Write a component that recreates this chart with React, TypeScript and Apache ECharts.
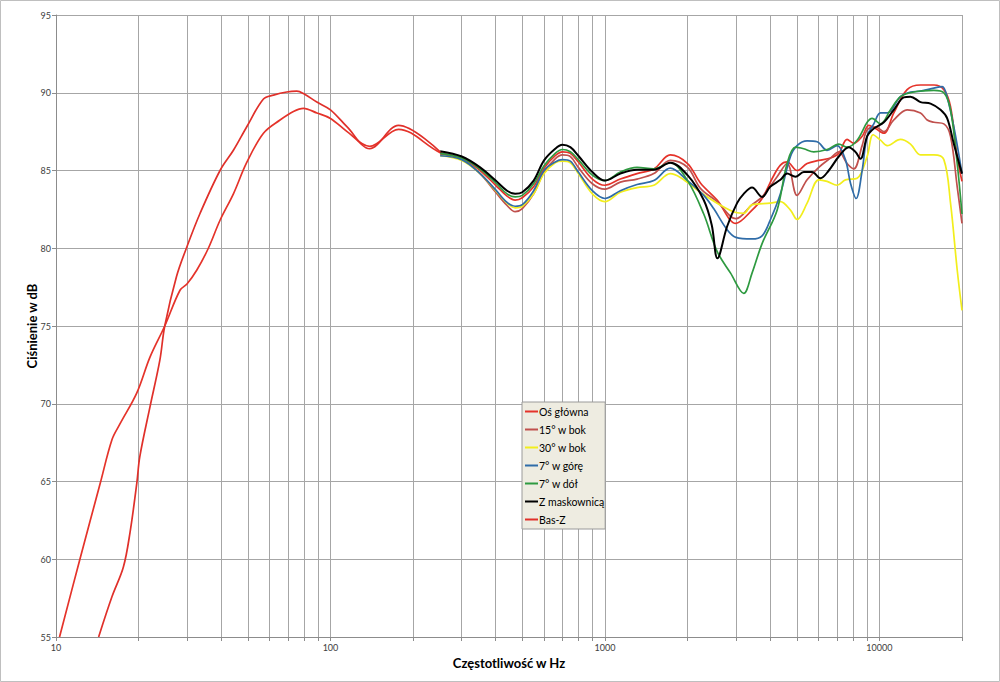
import { useEffect, useRef } from "react";
import * as echarts from "echarts";

// ---- data ----
const SERIES_NAMES = [
  "Oś główna",
  "15° w bok",
  "30° w bok",
  "7° w górę",
  "7° w dół",
  "Z maskownicą",
  "Bas-Z",
];
const SERIES_COLORS = ["#E5332A", "#C0504D", "#F2EE1C", "#2F6CA8", "#2E9A40", "#000000", "#E0302A"];

const X_LABELS = [10, 100, 1000, 10000];
const X_GRID = [
  10, 20, 30, 40, 50, 60, 70, 80, 90,
  100, 200, 300, 400, 500, 600, 700, 800, 900,
  1000, 2000, 3000, 4000, 5000, 6000, 7000, 8000, 9000,
  10000, 20000,
];

const OS_GLOWNA: [number, number][] = [
  [10.3, 55], [12.2, 59.95], [14.5, 64.9], [16, 67.7], [17.1, 68.7], [19.7, 70.7], [22, 73], [24.9, 75],
  [28.3, 77.3], [30, 77.7], [32.6, 78.6], [35.9, 80], [39.6, 81.8], [44.3, 83.5], [49.5, 85.5], [57, 87.4],
  [65.5, 88.25], [73.3, 88.8], [79.7, 89.0], [89.2, 88.7], [100, 88.35], [115, 87.5], [139, 86.55],
  [177, 87.65], [251, 86.15], [301, 85.8], [351, 85.0], [400, 84.05], [440, 83.35], [471, 83.1],
  [500, 83.25], [550, 83.95], [600, 85.15], [659, 85.95], [700, 86.2], [748, 86.1], [800, 85.55],
  [900, 84.45], [1000, 84.05], [1138, 84.45], [1309, 84.8], [1507, 85.1], [1730, 86.0], [2000, 85.45],
  [2228, 84.2], [2563, 83.1], [3000, 81.6], [3436, 82.45], [3738, 83.2], [4100, 84.6], [4359, 85.35],
  [4611, 85.55], [5013, 85.0], [5453, 85.45], [6015, 85.65], [6633, 85.8], [7114, 86.1], [7627, 87.0],
  [8067, 86.75], [8654, 87.2], [9152, 87.9], [9678, 87.7], [10380, 87.4], [11287, 88.7], [12620, 90.2],
  [14120, 90.5], [15797, 90.5], [17177, 90.2], [18165, 89.1], [19212, 85.9], [20000, 84.3],
];

const BOK_15: [number, number][] = [
  [251, 86.05], [301, 85.75], [351, 84.8], [400, 83.6], [440, 82.75], [471, 82.35], [500, 82.55],
  [550, 83.5], [600, 84.9], [659, 85.75], [700, 86.0], [748, 85.9], [800, 85.2], [900, 84.15],
  [1000, 83.8], [1138, 84.25], [1309, 84.45], [1507, 84.8], [1730, 85.65], [2000, 85.2], [2228, 83.85],
  [2563, 83.0], [3000, 81.9], [3436, 82.8], [3738, 83.3], [4240, 84.6], [4611, 85.45], [5013, 83.4],
  [5453, 84.4], [6015, 85.2], [6633, 85.8], [7114, 86.2], [7627, 85.45], [8067, 85.1], [8654, 86.6],
  [9025, 87.6], [9678, 87.8], [10380, 87.5], [11287, 88.25], [12620, 88.9], [14120, 88.7],
  [14933, 88.25], [15797, 88.1], [17177, 88.0], [18165, 87.2], [19212, 83.95], [20000, 81.6],
];

const BOK_30: [number, number][] = [
  [251, 85.95], [301, 85.65], [351, 84.8], [400, 83.7], [440, 82.9], [471, 82.6], [500, 82.7],
  [550, 83.5], [600, 84.8], [659, 85.5], [700, 85.6], [748, 85.5], [800, 84.8], [900, 83.5],
  [1000, 83.0], [1138, 83.6], [1309, 83.9], [1507, 84.05], [1730, 84.8], [1884, 84.55], [2228, 83.6],
  [2563, 82.9], [3000, 82.3], [3204, 82.25], [3436, 82.8], [4000, 82.9], [4359, 83.0], [4743, 82.45],
  [5013, 81.85], [5453, 82.9], [6015, 84.4], [6449, 84.3], [7015, 84.05], [7521, 84.4], [8298, 84.5],
  [9025, 85.9], [9490, 87.3], [10093, 86.95], [10675, 86.6], [11935, 87.0], [12985, 86.7],
  [14120, 86.0], [15797, 86.0], [17177, 85.7], [18165, 82.9], [19212, 78.6], [20000, 76.0],
];

const GORA_7: [number, number][] = [
  [251, 85.95], [301, 85.7], [351, 84.8], [400, 83.75], [440, 82.95], [471, 82.7], [500, 82.8],
  [550, 83.7], [600, 85.0], [659, 85.55], [700, 85.7], [748, 85.6], [800, 84.9], [900, 83.7],
  [1000, 83.2], [1138, 83.7], [1309, 84.1], [1507, 84.35], [1730, 85.15], [2000, 84.35], [2291, 83.4],
  [2490, 82.55], [2787, 81.2], [3000, 80.7], [3436, 80.6], [3738, 80.8], [4000, 81.8], [4359, 83.5],
  [4743, 85.9], [5013, 86.6], [5453, 86.9], [5931, 86.85], [6449, 86.3], [7015, 86.6], [7521, 85.7],
  [7844, 84.2], [8227, 83.2], [8654, 85.0], [9025, 87.2], [9543, 88.0], [10093, 88.7], [10675, 88.7],
  [11935, 89.75], [12985, 90.05], [14120, 90.1], [15797, 90.3], [16940, 90.4], [17665, 89.7],
  [18681, 87.8], [20000, 84.8],
];

const DOL_7: [number, number][] = [
  [251, 86.1], [301, 85.8], [351, 85.1], [400, 84.2], [440, 83.5], [471, 83.3], [500, 83.4],
  [550, 84.15], [600, 85.3], [659, 86.1], [700, 86.35], [748, 86.2], [800, 85.7], [900, 84.7],
  [1000, 84.35], [1138, 84.9], [1309, 85.2], [1507, 85.1], [1730, 85.5], [2000, 84.35], [2291, 82.2],
  [2563, 79.8], [2870, 78.4], [3204, 77.1], [3436, 78.4], [3738, 80.3], [4240, 82.45], [4611, 85.45],
  [4945, 86.5], [5302, 86.4], [5767, 86.2], [6449, 86.35], [7114, 86.7], [7627, 86.5], [8298, 86.95],
  [9025, 88.1], [9410, 88.35], [10093, 88.0], [10977, 88.9], [11935, 89.75], [13354, 90.05],
  [15797, 90.15], [17177, 90.0], [18165, 88.9], [19212, 85.45], [20000, 82.2],
];

const MASKOWNICA: [number, number][] = [
  [251, 86.24], [301, 85.9], [351, 85.2], [400, 84.35], [440, 83.7], [471, 83.5], [500, 83.6],
  [550, 84.35], [600, 85.65], [659, 86.4], [700, 86.65], [748, 86.5], [800, 85.95], [900, 84.9],
  [1000, 84.35], [1138, 84.8], [1309, 85.05], [1507, 85.05], [1730, 85.5], [2000, 84.7], [2291, 83.1],
  [2450, 81.5], [2570, 79.35], [2787, 81.4], [3030, 82.9], [3204, 83.5], [3436, 83.9], [3738, 83.3],
  [4000, 83.95], [4359, 84.4], [4611, 84.8], [4945, 84.6], [5302, 84.9], [5686, 84.9], [6100, 84.5],
  [6540, 85.0], [7114, 85.9], [7735, 86.5], [8181, 86.2], [8533, 85.75], [9025, 87.2], [9543, 87.7],
  [10380, 88.1], [11287, 88.9], [12272, 89.7], [12985, 89.75], [14120, 89.4], [15362, 89.3],
  [16705, 88.9], [17665, 88.35], [18681, 86.7], [20000, 84.8],
];

const BAS_Z: [number, number][] = [
  [14.3, 55], [16, 57.6], [17.6, 59.5], [18.6, 61.7], [19.7, 64.9], [20.2, 66.6], [22, 69.8],
  [23.9, 72.8], [24.9, 75], [27.5, 78.2], [30, 80.1], [33.5, 82.25], [39.6, 85], [44.3, 86.3],
  [49.5, 87.8], [57, 89.6], [62, 89.85], [69.3, 90.05], [75.4, 90.1], [79.7, 89.95], [89.2, 89.4],
  [100, 88.9], [115, 87.8], [139, 86.4], [177, 87.9], [251, 86.2],
];

const SERIES_DATA = [OS_GLOWNA, BOK_15, BOK_30, GORA_7, DOL_7, MASKOWNICA, BAS_Z];

const FONT = "Lato, 'Open Sans', sans-serif";

export default function App() {
  const ref = useRef<HTMLDivElement>(null);

  useEffect(() => {
    if (!ref.current) return;
    const chart = echarts.init(ref.current, undefined, { renderer: "svg" });
    const option: any = {
      animation: false,
      backgroundColor: "#ffffff",
      textStyle: { fontFamily: FONT },
      graphic: [
        {
          type: "rect",
          shape: { x: 0.5, y: 0.5, width: 999, height: 681 },
          style: { fill: "none", stroke: "#BFBFBF", lineWidth: 1 },
          silent: true,
          z: -1,
        },
      ],
      grid: { left: 56, right: 38, top: 15, bottom: 45, containLabel: false },
      legend: {
        orient: "vertical",
        left: 522,
        top: 402,
        backgroundColor: "#EEECE1",
        borderColor: "#9A9A9A",
        borderWidth: 1,
        borderRadius: 0,
        padding: [4, 1, 4, 2],
        itemWidth: 13,
        itemHeight: 10,
        itemGap: 7,
        itemStyle: { opacity: 0 },
        textStyle: { fontSize: 10.5, color: "#000", fontFamily: FONT, padding: [0, 0, 0, -4] },
        data: SERIES_NAMES.map((n) => ({ name: n })),
      },
      xAxis: {
        type: "log",
        logBase: 10,
        min: 10,
        max: 20000,
        name: "Częstotliwość w Hz",
        nameLocation: "middle",
        nameGap: 18,
        nameTextStyle: { fontSize: 13, fontWeight: "bold", color: "#000", fontFamily: FONT },
        axisLine: { show: true, lineStyle: { color: "#8C8C8C", width: 1 } },
        axisTick: { show: true, length: 4, lineStyle: { color: "#8C8C8C" }, customValues: X_GRID },
        axisLabel: {
          fontSize: 9,
          color: "#404040",
          margin: 6,
          customValues: X_LABELS,
          formatter: (v: number) => String(Math.round(v)),
        },
        splitLine: { show: true, lineStyle: { color: "#A6A6A6", width: 1 } },
      },
      yAxis: {
        type: "value",
        min: 55,
        max: 95,
        interval: 5,
        name: "Ciśnienie w dB",
        nameLocation: "middle",
        nameGap: 18,
        nameMoveOverlap: false,
        nameTextStyle: { fontSize: 13, fontWeight: "bold", color: "#000", fontFamily: FONT },
        axisLine: { show: true, lineStyle: { color: "#8C8C8C", width: 1 } },
        axisTick: { show: true, length: 4, lineStyle: { color: "#8C8C8C" } },
        axisLabel: { fontSize: 9, color: "#404040", margin: 5 },
        splitLine: { show: true, lineStyle: { color: "#A6A6A6", width: 1 } },
      },
      series: SERIES_NAMES.map((name, i) => ({
        name,
        type: "line",
        data: SERIES_DATA[i],
        smooth: 0.35,
        showSymbol: false,
        symbol: "none",
        clip: true,
        color: SERIES_COLORS[i],
        lineStyle: { color: SERIES_COLORS[i], width: i === 5 ? 2 : 1.7 },
      })),
    };
    chart.setOption(option);
    return () => chart.dispose();
  }, []);

  return (
    <div
      ref={ref}
      style={{ position: "absolute", left: 0, top: 0, width: 1000, height: 682 }}
    />
  );
}
